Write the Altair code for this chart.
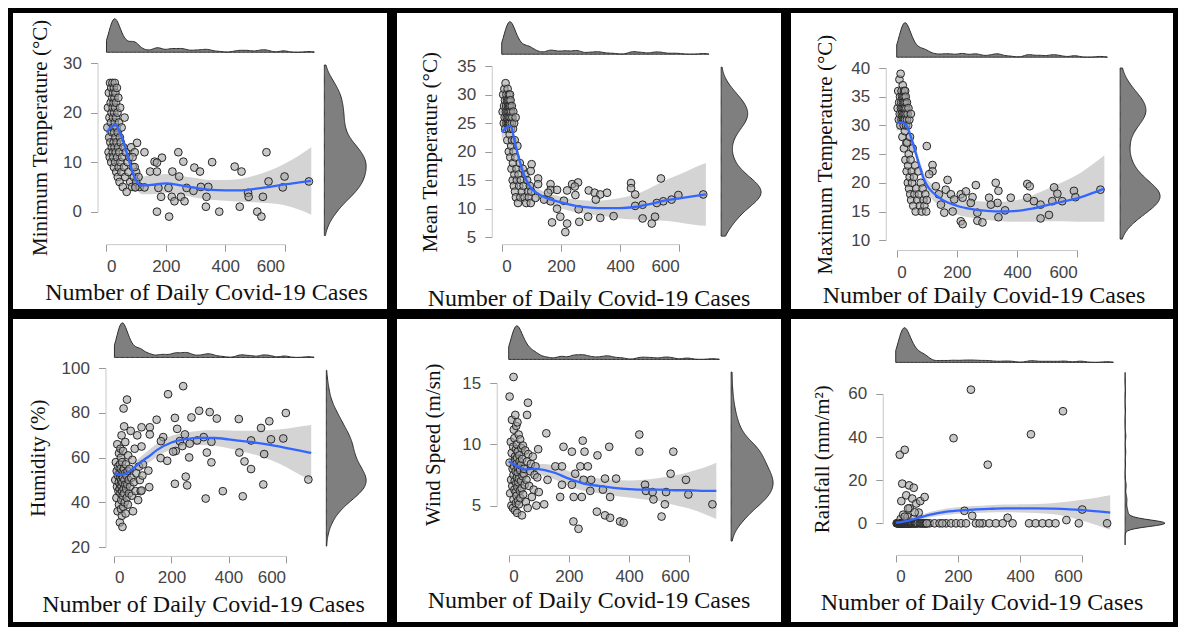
import altair as alt
import pandas as pd

# ---------------- data ----------------
# x positions (daily cases) of the dense cluster of low-case days, shared by all panels
CLUSTER_CASES = [3, 5, 7, 8, 9, 10, 11, 12, 13, 14,
                 15, 16, 16, 17, 18, 19, 19, 20, 21, 21,
                 22, 22, 23, 23, 24, 24, 25, 25, 26, 26,
                 27, 27, 28, 28, 29, 29, 30, 30, 31, 32,
                 32, 33, 34, 34, 35, 36, 37, 38, 38, 39,
                 40, 41, 42, 43, 44, 45, 46, 47, 48, 50,
                 51, 53, 55, 57, 59, 61, 63, 65, 68, 71,
                 74, 77, 80, 83, 86, 89, 92, 95, 98, 100]

MIN_T_CLUSTER = [17, 21, 12, 24, 15, 19, 11, 26, 14, 22,
                 18, 25, 10, 20, 13, 23, 16, 26, 12, 21,
                 19, 24, 11, 17, 22, 14, 25, 9, 20, 16,
                 23, 13, 18, 26, 10, 21, 15, 24, 12, 19,
                 22, 8, 17, 14, 25, 11, 20, 7, 16, 13,
                 23, 9, 18, 12, 6, 15, 21, 10, 14, 8,
                 17, 11, 5, 13, 9, 19, 7, 12, 4, 10,
                 8, 11, 6, 13, 5, 9, 7, 12, 5, 8]
MEAN_T_CLUSTER = [27, 30, 25, 28, 31, 26, 29, 24, 32, 27,
                  28, 25, 30, 26, 29, 22, 27, 31, 25, 28,
                  26, 29, 24, 27, 30, 20, 28, 25, 26, 29,
                  23, 27, 30, 25, 28, 19, 26, 29, 24, 21,
                  27, 17, 25, 28, 22, 26, 15, 24, 18, 27,
                  20, 14, 25, 16, 22, 13, 19, 26, 12, 17,
                  15, 21, 11, 16, 14, 18, 12, 15, 13, 17,
                  14, 12, 16, 11, 15, 13, 12, 14, 11, 13]
MAX_T_CLUSTER = [33, 36, 31, 34, 38, 32, 35, 30, 39, 33,
                 34, 31, 36, 32, 35, 28, 33, 37, 31, 34,
                 32, 35, 30, 33, 36, 26, 34, 31, 32, 35,
                 29, 33, 36, 31, 34, 24, 32, 35, 30, 27,
                 33, 22, 31, 34, 27, 32, 20, 30, 23, 33,
                 25, 19, 31, 21, 28, 18, 24, 32, 17, 22,
                 20, 26, 16, 21, 18, 23, 15, 19, 17, 22,
                 18, 16, 20, 15, 19, 17, 16, 18, 15, 17]
HUM_CLUSTER = [50, 58, 42, 54, 47, 66, 36, 52, 56, 45,
               49, 62, 39, 53, 46, 57, 31, 51, 64, 44,
               48, 55, 37, 60, 50, 41, 70, 47, 52, 34,
               45, 58, 49, 29, 54, 43, 63, 51, 38, 82,
               46, 55, 44, 74, 50, 40, 53, 48, 67, 35,
               57, 46, 52, 42, 86, 48, 54, 39, 61, 50,
               44, 55, 47, 72, 51, 43, 59, 36, 49, 64,
               45, 53, 70, 41, 56, 50, 45, 65, 52, 57]
WIND_CLUSTER = [8.5, 6.0, 10.2, 7.1, 5.0, 9.3, 12.0, 6.6, 8.0, 4.8,
                9.8, 7.5, 5.5, 11.2, 8.2, 6.3, 10.5, 7.0, 4.6, 9.0,
                8.7, 12.4, 6.1, 7.8, 5.2, 9.6, 11.5, 6.8, 8.4, 5.8,
                10.0, 7.3, 4.4, 8.9, 6.5, 11.8, 7.7, 9.4, 5.4, 8.1,
                6.9, 10.8, 7.2, 5.1, 9.1, 8.6, 6.2, 7.9, 10.4, 5.6,
                8.3, 7.0, 9.7, 6.4, 4.2, 8.8, 7.4, 9.9, 5.9, 7.6,
                8.0, 6.7, 9.5, 5.3, 7.1, 8.6, 4.8, 9.2, 6.6, 7.8,
                8.4, 5.7, 9.0, 6.3, 7.5, 8.2, 5.0, 7.3, 9.6, 6.1]
RAIN_CLUSTER = [0, 0, 0, 0, 0, 0, 0, 0, 0, 0,
                0, 0, 2, 0, 0, 0, 0, 0, 0, 0,
                0, 0, 0, 0, 0, 4, 0, 0, 0, 0,
                0, 0, 0, 0, 0, 0, 0, 0, 1, 0,
                0, 0, 0, 0, 0, 0, 0, 3, 0, 0,
                0, 0, 0, 0, 0, 7, 0, 0, 0, 0,
                0, 0, 0, 2, 0, 0, 0, 0, 0, 0,
                5, 0, 0, 0, 0, 0, 0, 0, 0, 0]

# individually read points (mostly the higher-case days)
MIN_T_X = [88, 95, 100, 108, 112, 103, 128, 187, 162, 170, 147, 170, 242, 259, 222, 245, 296, 315, 356, 432,
           455, 539, 546, 600, 682, 594, 175, 128, 97, 209, 270, 293, 318, 343, 184, 220, 251, 229, 263, 337,
           477, 479, 527, 170, 211, 335, 380, 449, 508, 522]
MIN_T_Y = [11, 9, 6, 7, 5, 13.9, 12.0, 10.9, 10.1, 9.9, 8.1, 8.1, 12.0, 10.1, 8.1, 7.1, 8.9, 8.1, 10.0, 9.1,
           8.1, 12.0, 6.1, 7.1, 6.1, 4.9, 4.8, 4.9, 4.9, 4.8, 4.8, 4.2, 5.0, 5.0, 3.0, 3.0, 3.0, 2.1, 2.1, 3.0,
           3.8, 3.0, 3.0, 0.0, -1.0, 1.0, 0.0, 1.0, 0.0, -1.0]
MEAN_T_X = [101, 98, 123, 123, 165, 165, 187, 157, 238, 258, 247, 221, 249, 294, 314, 333, 356, 318, 437, 437,
            451, 538, 597, 574, 546, 524, 476, 451, 681, 165, 187, 210, 260, 170, 198, 221, 215, 262, 292, 333,
            378, 476, 518, 507, 143, 114]
MEAN_T_Y = [17.8, 16.6, 15.3, 14.3, 14.3, 13.3, 13.3, 12.8, 14.3, 14.6, 13.9, 13.2, 12.4, 13.2, 12.8, 12.5,
            12.8, 11.6, 14.5, 13.6, 12.5, 15.3, 12.4, 11.6, 11.3, 11.0, 10.7, 10.5, 12.5, 11.3, 10.0, 11.4,
            9.9, 7.6, 8.6, 7.4, 5.9, 7.7, 8.6, 8.4, 8.7, 8.3, 8.6, 7.4, 11.6, 11.9]
MAX_T_X = [100, 119, 119, 130, 169, 163, 180, 191, 147, 158, 186, 213, 230, 219, 263, 252, 246, 268, 268, 285,
           213, 219, 307, 329, 338, 335, 313, 360, 338, 379, 434, 442, 434, 456, 478, 478, 506, 523, 534, 550,
           589, 594, 677, 517, 108, 140]
MAX_T_Y = [26.4, 23.1, 22.0, 19.4, 20.5, 18.8, 18.0, 17.1, 16.2, 14.8, 15.0, 18.0, 18.5, 17.4, 19.6, 17.5,
           16.5, 14.8, 13.4, 13.1, 13.3, 12.8, 17.4, 20.0, 18.6, 16.5, 16.2, 15.2, 14.0, 17.4, 19.8, 19.4,
           17.4, 16.8, 16.2, 13.8, 14.4, 19.2, 18.1, 16.8, 18.6, 17.5, 18.8, 16.8, 21.5, 18.0]
HUM_X = [95, 124, 124, 148, 188, 241, 212, 270, 297, 334, 359, 436, 543, 601, 514, 171, 163, 220, 229, 247,
         264, 215, 238, 206, 290, 313, 340, 479, 549, 592, 162, 185, 262, 324, 340, 438, 456, 479, 525, 250,
         255, 212, 320, 380, 450, 522, 680, 119, 122, 95]
HUM_Y = [73.6, 73.6, 70.4, 77.0, 88.4, 92.0, 77.8, 78.0, 81.0, 80.4, 77.5, 77.3, 76.3, 80.0, 73.3, 69.2,
         67.4, 72.9, 67.4, 70.4, 66.3, 63.0, 65.2, 62.7, 67.7, 69.2, 67.1, 67.7, 68.2, 68.6, 59.8, 58.6,
         60.1, 62.3, 57.9, 62.3, 58.3, 54.9, 61.6, 51.5, 47.6, 48.3, 41.7, 45.0, 42.7, 48.0, 50.2, 54.2,
         46.8, 45.3]
WIND_X = [16, 3, 64, 61, 125, 246, 182, 210, 252, 295, 334, 434, 434, 547, 155, 177, 238, 263, 221, 129,
          249, 274, 320, 357, 538, 589, 177, 210, 271, 313, 453, 456, 478, 523, 597, 171, 216, 243, 337, 481,
          519, 677, 118, 293, 320, 337, 370, 508, 215, 232, 382]
WIND_Y = [15.5, 13.9, 13.4, 12.4, 10.9, 10.3, 9.8, 9.4, 9.4, 9.1, 9.8, 10.8, 9.4, 9.4, 8.2, 8.2, 8.2, 8.2,
          7.6, 7.1, 7.1, 7.1, 7.2, 7.2, 7.6, 7.1, 6.7, 6.7, 6.2, 6.3, 6.7, 6.2, 6.1, 6.1, 5.9, 5.7, 5.7, 5.7,
          5.7, 5.5, 5.1, 5.1, 5.1, 4.5, 4.2, 4.0, 3.7, 4.1, 3.7, 3.1, 3.6]
RAIN_X = [13, 29, 21, 43, 58, 18, 34, 53, 66, 79, 93, 29, 40, 61, 186, 242, 221, 246, 296, 435, 538, 600,
          549, 360, 109, 125, 141, 162, 178, 194, 210, 226, 258, 280, 301, 322, 344, 376, 429, 450, 472, 493,
          514, 589, 680, 100, 150, 270]
RAIN_Y = [31.8, 34.1, 18.4, 17.6, 16.5, 10.3, 13.0, 11.5, 9.2, 10.3, 12.2, 3.1, 6.9, 5.1, 39.5, 62.0, 5.8,
          3.5, 27.2, 41.3, 52.0, 6.4, 1.5, 2.6, 0, 0, 0, 0, 0, 0, 0, 0, 0, 0, 0, 0, 0, 0, 0, 0, 0, 0, 0, 0,
          0, 0, 0, 0]

# smoothed (loess) curves and half-widths of their confidence bands
SMOOTH_X = [0, 15, 30, 45, 60, 75, 90, 105, 120, 150, 200, 250, 300, 350, 400, 450, 500, 550, 600, 650, 690]
MIN_T_FIT = [16.0, 17.0, 17.6, 16.0, 13.5, 10.5, 7.6, 5.8, 5.3, 5.4, 5.7, 5.3, 4.8, 4.4, 4.3, 4.3, 4.6, 5.0, 5.5, 5.9, 6.2]
MIN_T_HW = [1.6, 1.2, 1.0, 1.0, 1.0, 1.0, 1.1, 1.6, 1.8, 1.9, 1.9, 1.9, 2.0, 2.0, 2.1, 2.3, 2.7, 3.3, 4.2, 5.5, 6.8]
MEAN_T_FIT = [23.4, 24.2, 24.5, 21.5, 18.5, 16.0, 14.3, 13.3, 12.7, 11.9, 11.1, 10.5, 10.2, 10.1, 10.1, 10.3, 10.8, 11.4, 11.8, 12.2, 12.5]
MEAN_T_HW = [1.5, 1.1, 1.0, 1.0, 0.9, 0.9, 0.9, 0.9, 0.9, 1.0, 1.0, 1.1, 1.2, 1.4, 1.8, 2.2, 2.8, 3.5, 4.2, 5.0, 5.5]
MAX_T_FIT = [30.5, 30.5, 30.2, 28.3, 25.8, 23.1, 20.7, 19.2, 18.3, 17.1, 16.0, 15.4, 15.1, 15.0, 15.1, 15.5, 16.1, 16.7, 17.3, 18.2, 19.0]
MAX_T_HW = [1.5, 1.2, 1.1, 1.0, 1.0, 1.0, 1.1, 1.2, 1.3, 1.4, 1.5, 1.5, 1.6, 1.7, 1.9, 2.3, 2.8, 3.4, 4.1, 5.0, 5.8]
HUM_FIT = [53.2, 52.5, 52.4, 53.2, 54.5, 56.2, 57.8, 59.2, 60.5, 63.5, 66.8, 68.3, 68.9, 68.8, 68.2, 67.4, 66.6, 65.6, 64.4, 63.1, 62.1]
HUM_HW = [3.0, 2.0, 1.8, 1.8, 2.0, 2.2, 2.4, 2.6, 2.8, 3.0, 3.0, 3.0, 3.2, 3.5, 4.0, 4.6, 5.5, 6.8, 8.5, 10.8, 12.5]
WIND_FIT = [8.6, 8.4, 8.2, 8.0, 7.95, 8.0, 8.0, 7.95, 7.9, 7.7, 7.2, 6.8, 6.6, 6.45, 6.35, 6.3, 6.3, 6.25, 6.25, 6.2, 6.2]
WIND_HW = [0.6, 0.4, 0.35, 0.35, 0.35, 0.35, 0.4, 0.45, 0.5, 0.55, 0.6, 0.6, 0.6, 0.65, 0.7, 0.8, 0.95, 1.2, 1.5, 1.9, 2.3]
RAIN_FIT = [0.3, 0.5, 0.9, 1.4, 2.0, 2.6, 3.2, 3.8, 4.3, 5.1, 5.9, 6.4, 6.7, 6.9, 6.9, 6.9, 6.8, 6.6, 6.1, 5.5, 5.0]
RAIN_HW = [0.8, 0.7, 0.7, 0.8, 0.9, 1.0, 1.1, 1.2, 1.3, 1.4, 1.5, 1.6, 1.7, 1.8, 1.9, 2.1, 2.5, 3.4, 4.8, 6.5, 8.0]

X_TICKS = [0, 200, 400, 600]
X_TITLE = "Number of Daily Covid-19 Cases"

PANELS = [
    dict(title="Minimum Temperature (°C)", cl=MIN_T_CLUSTER, ex=MIN_T_X, ey=MIN_T_Y, fit=MIN_T_FIT, hw=MIN_T_HW,
         ticks=[0, 10, 20, 30], ext=[-4.8, 29.6], bw=2.4,
         g=dict(ofw=386, ofh=311, pl=99, pt=56, pw=179, ph=151, xline=240, yline=90, ytx=33, xtx=199, xty=289,
                tb=45, tp=11, rb=318, rp=360)),
    dict(title="Mean Temperature (°C)", cl=MEAN_T_CLUSTER, ex=MEAN_T_X, ey=MEAN_T_Y, fit=MEAN_T_FIT, hw=MEAN_T_HW,
         ticks=[5, 10, 15, 20, 25, 30, 35], ext=[5.2, 34.8], bw=2.0,
         g=dict(ofw=395, ofh=311, pl=110, pt=59, pw=178, ph=174, xline=240, yline=100, ytx=39, xtx=197, xty=295,
                tb=47, tp=14, rb=330, rp=370)),
    dict(title="Maximum Temperature (°C)", cl=MAX_T_CLUSTER, ex=MAX_T_X, ey=MAX_T_Y, fit=MAX_T_FIT, hw=MAX_T_HW,
         ticks=[10, 15, 20, 25, 30, 35, 40], ext=[10.2, 40.0], bw=2.0,
         g=dict(ofw=393, ofh=311, pl=111, pt=61, pw=181, ph=175, xline=246, yline=100, ytx=40, xtx=198, xty=292,
                tb=50, tp=15, rb=335, rp=375)),
    dict(title="Humidity (%)", cl=HUM_CLUSTER, ex=HUM_X, ey=HUM_Y, fit=HUM_FIT, hw=HUM_HW,
         ticks=[20, 40, 60, 80, 100], ext=[20.4, 99.1], bw=5.0,
         g=dict(ofw=386, ofh=317, pl=107, pt=55, pw=172, ph=181, xline=245, yline=98, ytx=31, xtx=196, xty=294,
                tb=44, tp=9, rb=320, rp=360)),
    dict(title="Wind Speed (m/sn)", cl=WIND_CLUSTER, ex=WIND_X, ey=WIND_Y, fit=WIND_FIT, hw=WIND_HW,
         ticks=[5, 10, 15], ext=[2.1, 15.9], bw=0.8,
         g=dict(ofw=395, ofh=317, pl=117, pt=70, pw=181, ph=124, xline=244, yline=105, ytx=42, xtx=197, xty=290,
                tb=46, tp=12, rb=340, rp=382)),
    dict(title="Rainfall (mm/m²)", cl=RAIN_CLUSTER, ex=RAIN_X, ey=RAIN_Y, fit=RAIN_FIT, hw=RAIN_HW,
         ticks=[0, 20, 40, 60], ext=[-10.0, 70.0], bw=1.5,
         g=dict(ofw=393, ofh=317, pl=110, pt=81, pw=187, ph=131, xline=244, yline=97, ytx=37, xtx=196, xty=292,
                tb=49, tp=14, rb=340, rp=380)),
]

COL_W = [384, 394, 392]
ROW_H = [306, 313]


def build_panel(p, fw, fh):
    g = p["g"]
    sx = fw / g["ofw"]
    sy = fh / g["ofh"]
    PL, PT = g["pl"] * sx, g["pt"] * sy
    PW, PH = g["pw"] * sx, g["ph"] * sy

    pts_df = pd.DataFrame({"cases": CLUSTER_CASES + p["ex"], "val": p["cl"] + p["ey"]})
    sm_df = pd.DataFrame({
        "cases": SMOOTH_X,
        "fit": p["fit"],
        "lo": [f - h for f, h in zip(p["fit"], p["hw"])],
        "hi": [f + h for f, h in zip(p["fit"], p["hw"])],
    })
    ydom = [p["ticks"][0], p["ticks"][-1]]
    # the view covers the whole framed panel; the scatter sits inside it through the scale ranges
    xsc = alt.Scale(domain=[0, 600], range=[PL, PL + PW], nice=False, zero=False)
    ysc = alt.Scale(domain=ydom, range=[PT + PH, PT], nice=False, zero=False)

    x_axis = alt.Axis(values=X_TICKS, offset=g["xline"] * sy - fh, title=X_TITLE,
                      titleX=g["xtx"] * sx, titleY=(g["xty"] - g["xline"]) * sy,
                      titleBaseline="middle", titleAlign="center", titleFontSize=24,
                      labelPadding=7, format="d")
    y_axis = alt.Axis(values=p["ticks"], offset=-g["yline"] * sx, title=p["title"],
                      titleX=(g["ytx"] - g["yline"]) * sx, titleY=PT + PH / 2, titleAngle=270,
                      titleBaseline="middle", titleAlign="center", titleFontSize=21,
                      labelPadding=9, format="d")

    band = alt.Chart(sm_df).mark_area(color="#bdbdbd", opacity=0.65, interpolate="monotone").encode(
        x=alt.X("cases:Q", scale=xsc, axis=None),
        y=alt.Y("lo:Q", scale=ysc, axis=None),
        y2="hi:Q",
    )
    pts = alt.Chart(pts_df).mark_circle(size=60, fill="#a3a3a3", fillOpacity=0.6, opacity=1,
                                        stroke="#262626", strokeWidth=1).encode(
        x=alt.X("cases:Q", scale=xsc, axis=x_axis),
        y=alt.Y("val:Q", scale=ysc, axis=y_axis),
    )
    line = alt.Chart(sm_df).mark_line(color="#3366FF", strokeWidth=2.3, interpolate="monotone").encode(
        x=alt.X("cases:Q", scale=xsc, axis=None),
        y=alt.Y("fit:Q", scale=ysc, axis=None),
    )
    top = alt.Chart(pts_df).transform_density(
        "cases", as_=["cases", "dens"], extent=[0, 700], bandwidth=14, steps=160
    ).mark_area(fill="#7f7f7f", stroke="#2e2e2e", strokeWidth=1).encode(
        x=alt.X("cases:Q", scale=xsc, axis=None),
        y=alt.Y("dens:Q", scale=alt.Scale(range=[g["tb"] * sy, g["tp"] * sy], zero=True, nice=False), axis=None),
        y2=alt.datum(0),
    )
    right = alt.Chart(pts_df).transform_density(
        "val", as_=["val", "dens"], extent=p["ext"], bandwidth=p["bw"], steps=160
    ).mark_area(orient="horizontal", fill="#7f7f7f", stroke="#2e2e2e", strokeWidth=1).encode(
        y=alt.Y("val:Q", scale=ysc, axis=None),
        x=alt.X("dens:Q", scale=alt.Scale(range=[g["rb"] * sx, g["rp"] * sx], zero=True, nice=False), axis=None),
        x2=alt.datum(0),
    )
    frame = alt.Chart(pd.DataFrame({"k": [0]})).mark_rect(filled=False, stroke="black", strokeWidth=5).encode(
        x=alt.value(2.5), x2=alt.value(fw - 2.5),
        y=alt.value(2.5), y2=alt.value(fh - 2.5),
    )
    return alt.layer(band, pts, line, top, right, frame).resolve_scale(
        x="independent", y="independent"
    ).properties(width=fw, height=fh)


rows = []
for r in range(2):
    cells = [build_panel(PANELS[r * 3 + c], COL_W[c], ROW_H[r]) for c in range(3)]
    rows.append(alt.hconcat(*cells, spacing=0))

chart = alt.vconcat(*rows, spacing=0).properties(padding=0).configure_view(
    strokeWidth=0
).configure_axis(
    labelFont="Liberation Sans", labelFontSize=17, labelColor="#444444",
    titleFont="Liberation Serif", titleColor="#111111", titleFontWeight="normal",
    domainColor="#c8c8c8", tickColor="#9a9a9a", tickSize=7, grid=False,
)

chart.save("out.html", embed_options={"renderer": "svg", "actions": False})
